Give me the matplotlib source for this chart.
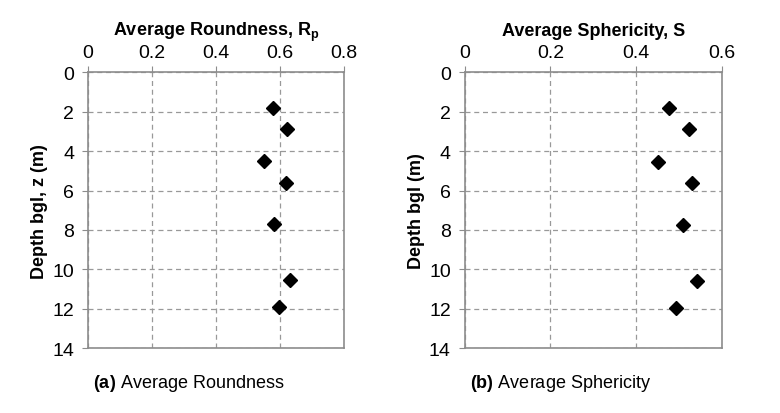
import numpy as np
import matplotlib.pyplot as plt

plt.rcParams['font.family'] = ['Liberation Sans', 'DejaVu Sans']
plt.rcParams['mathtext.fontset'] = 'custom'
plt.rcParams['mathtext.rm'] = 'Liberation Sans'
plt.rcParams['mathtext.bf'] = 'Liberation Sans:bold'

depth_a = [1.78, 2.88, 4.52, 5.60, 7.72, 10.55, 11.9]
roundness = [0.579, 0.620, 0.550, 0.617, 0.581, 0.631, 0.596]

depth_b = [1.78, 2.88, 4.54, 5.64, 7.75, 10.6, 11.95]
sphericity = [0.476, 0.524, 0.451, 0.530, 0.509, 0.542, 0.493]

fig = plt.figure(figsize=(7.8, 4.14), dpi=100)
ax1 = fig.add_axes([0.1128, 0.157, 0.3286, 0.6655])
ax2 = fig.add_axes([0.5958, 0.157, 0.3295, 0.6655])

panels = [
    (ax1, roundness, depth_a, 0.8, [0, 0.2, 0.4, 0.6, 0.8], ['0', '0.2', '0.4', '0.6', '0.8'],
     r'Average Roundness, R$_\mathbf{p}$', 'Depth bgl, z (m)', r'$\mathbf{(a)}$ Average Roundness'),
    (ax2, sphericity, depth_b, 0.6, [0, 0.2, 0.4, 0.6], ['0', '0.2', '0.4', '0.6'],
     'Average Sphericity, S', 'Depth bgl (m)', r'$\mathbf{(b)}$ Average Sphericity'),
]

for ax, x, y, xmax, xt, xtl, xlab, ylab, cap in panels:
    ax.plot(x, y, 'D', color='black', markersize=7, zorder=3)
    ax.set_xlim(0, xmax)
    ax.set_ylim(14, 0)
    ax.set_xticks(xt)
    ax.set_xticklabels(xtl)
    ax.set_yticks(range(0, 15, 2))
    ax.xaxis.tick_top()
    ax.xaxis.set_label_position('top')
    ax.set_xlabel(xlab, fontsize=13, fontweight='bold', labelpad=7)
    ax.set_ylabel(ylab, fontsize=13, fontweight='bold', labelpad=3)
    ax.grid(True, color='#999999', linestyle=(0, (4, 3)), linewidth=0.9)
    for s in ax.spines.values():
        s.set_color('#8c8c8c')
        s.set_linewidth(1.2)
    ax.tick_params(direction='out', length=4, color='#8c8c8c', labelsize=14, pad=4)
    ax.tick_params(axis='y', pad=6)
    ax.text(0.02, -0.125, cap, transform=ax.transAxes, fontsize=13, va='center', ha='left')

fig.savefig('out.png', dpi=100)
